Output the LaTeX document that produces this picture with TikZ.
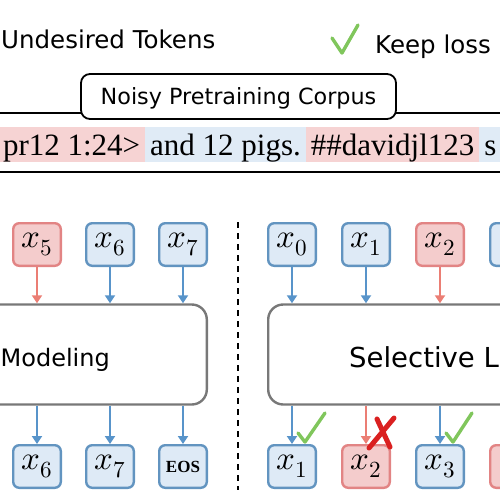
\documentclass[tikz,border=0pt]{standalone}
\usepackage{fontspec}
\usepackage{unicode-math}
\setmainfont{Liberation Serif}
\setsansfont{DejaVu Sans}
\setmathfont{Latin Modern Math}
\usetikzlibrary{positioning,arrows.meta,calc}
\definecolor{tFill}{RGB}{222,234,246}
\definecolor{tLine}{RGB}{98,148,192}
\definecolor{tArrow}{RGB}{88,148,202}
\definecolor{bFill}{RGB}{244,204,204}
\definecolor{bLine}{RGB}{226,132,132}
\definecolor{bArrow}{RGB}{235,126,116}
\definecolor{hBlue}{RGB}{224,235,246}
\definecolor{hRed}{RGB}{246,211,211}
\definecolor{gLine}{RGB}{120,120,120}
\definecolor{okGreen}{RGB}{128,198,92}
\definecolor{xRed}{RGB}{218,32,32}
\tikzset{
  tok/.style={rectangle, rounded corners=6pt, draw=tLine, fill=tFill, line width=2.4pt,
              minimum width=47.6pt, minimum height=42.6pt, inner sep=0pt,
              font=\fontsize{33}{34}\selectfont},
  tokbad/.style={tok, draw=bLine, fill=bFill},
  lmbox/.style={rectangle, rounded corners=15pt, draw=gLine, fill=white, line width=2.4pt,
                minimum height=100pt},
  lmtext/.style={font=\sffamily\fontsize{27.5}{28}\selectfont},
  flow/.style={-{Triangle[length=8pt,width=10pt]}, draw=tArrow, line width=2.4pt},
  flowbad/.style={flow, draw=bArrow},
  hl/.style={fill=hBlue, inner xsep=5pt, inner ysep=2pt, outer sep=0pt,
             text height=26pt, text depth=5pt, font=\fontsize{31}{31}\selectfont},
  hlbad/.style={hl, fill=hRed},
  legend/.style={font=\sffamily\fontsize{24.5}{25}\selectfont},
  corpus/.style={rectangle, rounded corners=9pt, draw=black, fill=white, line width=1.8pt,
                 minimum width=315pt, minimum height=45pt, text depth=0pt,
                 font=\sffamily\fontsize{22.3}{23}\selectfont},
  keep/.style={draw=okGreen, line width=3.4pt, line cap=round, line join=round},
  drop/.style={draw=xRed, line width=5pt, line cap=round},
}
\begin{document}
\begin{tikzpicture}[x=1pt, y=-1pt, node distance=23pt]
  \useasboundingbox (0,0) rectangle (500,500);
  \clip (0,0) rectangle (500,500);
  % legend
  \node[legend, anchor=base west, inner sep=0pt] (undes) at (1,49) {Undesired Tokens};
  \draw[keep] (332,38) -- (342,53) -- (358,25);
  \node[legend, anchor=base west, inner sep=0pt] (keep) at (375,54) {Keep loss};
  % corpus header and text strip
  \coordinate (rule1w) at (0,113);
  \coordinate (rule1e) at (500,113);
  \draw[line width=1.6pt] (rule1w) -- (rule1e);
  \node[corpus] (corpus) at (238.5,96.5) {Noisy Pretraining Corpus};
  \node[hlbad, anchor=west] (s1) at (-2,144.5) {pr12 1:24>};
  \node[hl, right=0pt of s1] (s2) {and 12 pigs.};
  \node[hlbad, right=0pt of s2] (s3) {\#\#davidjl123};
  \node[hl, right=0pt of s3, align=left, text width=30pt] (s4) {s};
  \coordinate (rule2w) at (0,172);
  \coordinate (rule2e) at (500,172);
  \draw[line width=1.8pt] (rule2w) -- (rule2e);
  % left: language modeling
  \node[lmbox, minimum width=265.6pt] (clm) at (74,354.5) {};
  \node[lmtext, font=\sffamily\fontsize{24}{25}\selectfont, anchor=base east,
        inner sep=0pt] (clmtxt) at (110,366) {Modeling};
  \node[tokbad] (t5) at (37,244.5) {$x_5$};
  \node[tok, right=of t5] (t6) {$x_6$};
  \node[tok, right=of t6] (t7) {$x_7$};
  \node[tok] (b6) at (37,466.5) {$x_6$};
  \node[tok, right=of b6] (b7) {$x_7$};
  \node[tok, right=of b7, font=\fontsize{17}{17}\selectfont\bfseries] (beos) {EOS};
  \draw[flowbad] (t5) -- (t5 |- clm.north);
  \draw[flow] (t6) -- (t6 |- clm.north);
  \draw[flow] (t7) -- (t7 |- clm.north);
  \draw[flow] (clm.south -| b6) -- (b6);
  \draw[flow] (clm.south -| b7) -- (b7);
  \draw[flow] (clm.south -| beos) -- (beos);
  % separator
  \coordinate (sepTop) at (238,222);
  \coordinate (sepBot) at (238,490);
  \draw[line width=2pt, dash pattern=on 6pt off 5pt] (sepTop) -- (sepBot);
  % right: selective language modeling
  \node[lmbox, minimum width=290.6pt] (slm) at (413.5,354.5) {};
  \node[lmtext, anchor=base west, inner sep=0pt] (slmtxt) at (349,367) {Selective L};
  \node[tok] (r0) at (292,244.5) {$x_0$};
  \node[tok, right=24pt of r0] (r1) {$x_1$};
  \node[tokbad, right=24pt of r1] (r2) {$x_2$};
  \node[tok, right=24pt of r2] (r3) {};
  \node[tok] (q1) at (292,466.5) {$x_1$};
  \node[tokbad, right=24pt of q1] (q2) {$x_2$};
  \node[tok, right=24pt of q2] (q3) {$x_3$};
  \node[tokbad, right=24pt of q3] (q4) {};
  \draw[flow] (r0) -- (r0 |- slm.north);
  \draw[flow] (r1) -- (r1 |- slm.north);
  \draw[flowbad] (r2) -- (r2 |- slm.north);
  \draw[flow] (slm.south -| q1) -- (q1);
  \draw[flowbad] (slm.south -| q2) -- (q2);
  \draw[flow] (slm.south -| q3) -- (q3);
  % loss marks
  \draw[keep] ($(q1.north)+(6,-11)$) -- ($(q1.north)+(13,-2)$) -- ($(q1.north)+(33,-31)$);
  \draw[keep] ($(q3.north)+(6,-11)$) -- ($(q3.north)+(13,-2)$) -- ($(q3.north)+(32,-31)$);
  \draw[drop] ($(q2.north)+(28,-26)$) -- ($(q2.north)+(3,4)$);
  \draw[drop] ($(q2.north)+(11,-25)$) -- ($(q2.north)+(24,3)$);
\end{tikzpicture}
\end{document}
